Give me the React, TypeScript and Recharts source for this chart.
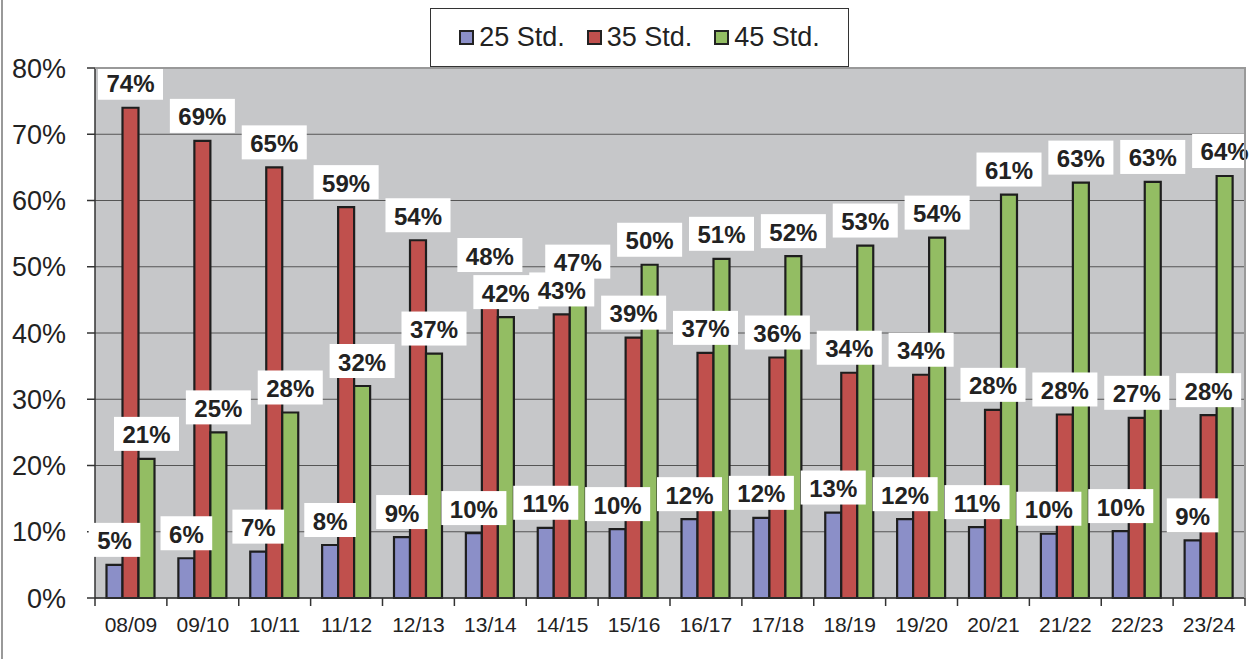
import React from "react";
import {
  BarChart,
  Bar,
  XAxis,
  YAxis,
  CartesianGrid,
  Legend,
  LabelList,
} from "recharts";

const categories = [
  "08/09", "09/10", "10/11", "11/12", "12/13", "13/14", "14/15", "15/16",
  "16/17", "17/18", "18/19", "19/20", "20/21", "21/22", "22/23", "23/24",
];
const std25 = [5.0, 6.0, 7.0, 8.0, 9.2, 9.8, 10.6, 10.4, 11.9, 12.1, 12.9, 11.9, 10.7, 9.7, 10.1, 8.7];
const std35 = [74, 69, 65, 59, 54, 48, 42.8, 39.3, 37.0, 36.3, 34.0, 33.7, 28.4, 27.7, 27.2, 27.6];
const std45 = [21.0, 25.0, 28.0, 32.0, 36.9, 42.4, 47.0, 50.3, 51.2, 51.6, 53.2, 54.4, 60.9, 62.7, 62.8, 63.7];
const yTicks = [0, 10, 20, 30, 40, 50, 60, 70, 80];
const seriesNames = ["25 Std.", "35 Std.", "45 Std."];

const COLORS = ["#8B8FC8", "#C0504D", "#93BD63"];
const FONT = "'Liberation Sans', Arial, sans-serif";

const W = 1255;
const H = 659;
const LEGEND_H = 59;
const M = { top: 68 - LEGEND_H, right: 10, bottom: 0, left: 0 };
const Y_W = 95;
const X_H = 61;
const PLOT_W = W - M.left - M.right - Y_W;
const BAND = PLOT_W / categories.length;

const data = categories.map((c, i) => ({
  cat: c,
  a: std25[i],
  b: std35[i],
  c: std45[i],
}));

const charW = (ch: string) => (ch === "%" ? 0.889 : 0.556);

// slotShift: label bars are drawn in order a, c, b (so red labels sit on top);
// shift each label back onto the slot of its own visible bar.
const BoxLabel = (props: any) => {
  const { x, y, width, value, slotShift = 0 } = props;
  if (value == null) return null;
  const txt = `${Math.round(Number(value))}%`;
  const fs = 24;
  const tw = txt.split("").reduce((s, ch) => s + charW(ch) * fs, 0);
  const bw = tw + 17;
  const bh = 34;
  const cx = x + width / 2 + slotShift * width;
  const by = y - 8 - bh;
  return (
    <g>
      <rect x={cx - bw / 2} y={by} width={bw} height={bh} fill="#ffffff" />
      <text
        x={cx}
        y={by + bh / 2 + 1}
        textAnchor="middle"
        dominantBaseline="central"
        fontFamily={FONT}
        fontWeight="bold"
        fontSize={fs}
        fill="#222"
      >
        {txt}
      </text>
    </g>
  );
};

const XTick = (props: any) => {
  const { x, y, payload, index } = props;
  const left = x - BAND / 2;
  const last = index === categories.length - 1;
  return (
    <g>
      <line x1={left} y1={y} x2={left} y2={y + 8} stroke="#333" strokeWidth={1.5} />
      {last && (
        <line x1={x + BAND / 2} y1={y} x2={x + BAND / 2} y2={y + 8} stroke="#333" strokeWidth={1.5} />
      )}
      <text
        x={x}
        y={y + 34}
        textAnchor="middle"
        fontFamily={FONT}
        fontSize={21}
        fill="#222"
      >
        {payload.value}
      </text>
    </g>
  );
};

const LegendBox = () => (
  <div
    style={{
      width: 417,
      height: LEGEND_H - 2,
      border: "1px solid #333",
      background: "#fff",
      display: "flex",
      alignItems: "center",
      justifyContent: "center",
      gap: 22,
      fontFamily: FONT,
      fontSize: 27,
      color: "#222",
      boxSizing: "content-box",
    }}
  >
    {seriesNames.map((n, i) => (
      <div key={n} style={{ display: "flex", alignItems: "center" }}>
        <div
          style={{
            width: 11,
            height: 11,
            border: "2px solid #222",
            background: COLORS[i],
            marginRight: 5,
          }}
        />
        <span>{n}</span>
      </div>
    ))}
  </div>
);

export default function App() {
  return (
    <div style={{ position: "absolute", left: 0, top: 0, width: W, height: H, background: "#fff" }}>
      <BarChart
        width={W}
        height={H}
        data={data}
        margin={M}
        barCategoryGap="16%"
        barGap={0}
      >
        <CartesianGrid horizontal vertical={false} stroke="#555" fill="#C6C7C9" fillOpacity={1} />
        <XAxis
          dataKey="cat"
          height={X_H}
          tickSize={0}
          tickMargin={0}
          tickLine={false}
          axisLine={{ stroke: "#333", strokeWidth: 1.5 }}
          tick={<XTick />}
          interval={0}
        />
        <XAxis xAxisId="lbl" dataKey="cat" hide />
        <YAxis
          width={Y_W}
          domain={[0, 80]}
          ticks={yTicks}
          tickFormatter={(v: number) => `${v}%`}
          tickSize={8}
          tickMargin={21}
          tickLine={{ stroke: "#333", strokeWidth: 1.5 }}
          axisLine={{ stroke: "#333", strokeWidth: 1.5 }}
          tick={{ fontFamily: FONT, fontSize: 27, fill: "#222" }}
          interval={0}
        />
        <Legend
          verticalAlign="top"
          content={<LegendBox />}
          wrapperStyle={{ position: "absolute", left: 430, top: 8, width: 419, height: LEGEND_H }}
        />
        <Bar dataKey="a" name={seriesNames[0]} fill={COLORS[0]} stroke="#1e1e1e" strokeWidth={2.2} isAnimationActive={false} />
        <Bar dataKey="b" name={seriesNames[1]} fill={COLORS[1]} stroke="#1e1e1e" strokeWidth={2.2} isAnimationActive={false} />
        <Bar dataKey="c" name={seriesNames[2]} fill={COLORS[2]} stroke="#1e1e1e" strokeWidth={2.2} isAnimationActive={false} />

        <Bar xAxisId="lbl" dataKey="a" fill="none" stroke="none" legendType="none" isAnimationActive={false}>
          <LabelList dataKey="a" content={<BoxLabel slotShift={0} />} />
        </Bar>
        <Bar xAxisId="lbl" dataKey="c" fill="none" stroke="none" legendType="none" isAnimationActive={false}>
          <LabelList dataKey="c" content={<BoxLabel slotShift={1} />} />
        </Bar>
        <Bar xAxisId="lbl" dataKey="b" fill="none" stroke="none" legendType="none" isAnimationActive={false}>
          <LabelList dataKey="b" content={<BoxLabel slotShift={-1} />} />
        </Bar>
      </BarChart>
      <div style={{ position: "absolute", left: 1, top: 0, width: 2, height: H, background: "#999" }} />
      <div style={{ position: "absolute", left: 1244, top: 67, width: 2, height: 531, background: "#999" }} />
      <div style={{ position: "absolute", left: 95, top: 67, width: 1151, height: 2, background: "#999" }} />
    </div>
  );
}
